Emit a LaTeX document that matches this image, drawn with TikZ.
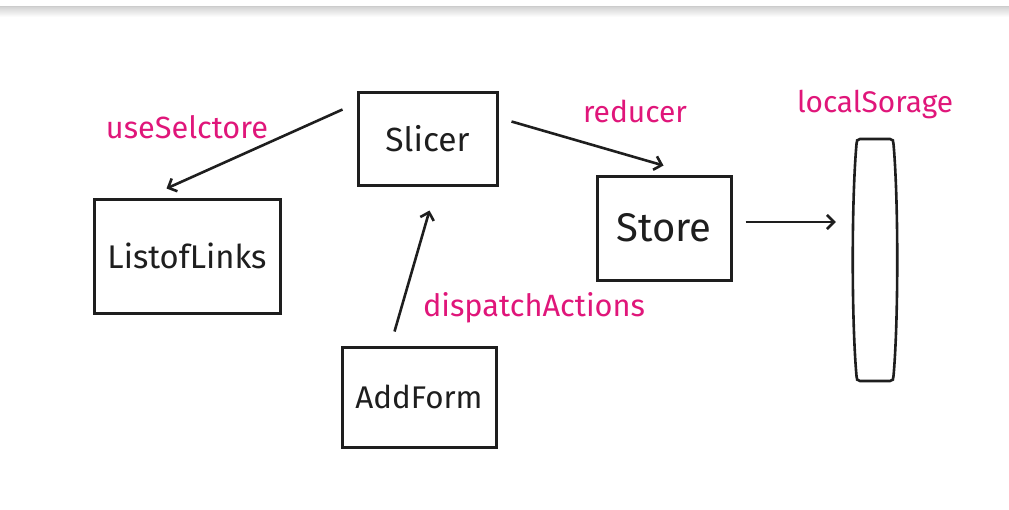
\documentclass[tikz,border=0pt]{standalone}
\usepackage{fontspec}
\setmainfont{Fira Sans}
\usetikzlibrary{arrows.meta,calc}
\definecolor{ink}{RGB}{30,30,30}
\definecolor{lblpink}{RGB}{224,22,122}
\newcommand\fitw[2]{\resizebox{#1pt}{!}{#2}}
\tikzset{
  box/.style={draw=ink,line width=3pt,rectangle,inner sep=0pt,text=ink},
  conn/.style={draw=ink,line width=2.6pt,-{Straight Barb[length=7pt,width=14pt]}},
  lbl/.style={text=lblpink,inner sep=0pt}
}
\begin{document}
\begin{tikzpicture}[x=1pt,y=-1pt]
\useasboundingbox (0,0) rectangle (1009,509);
\fill[white] (0,0) rectangle (1009,509);
\shade[top color=black!18,bottom color=white] (0,6) rectangle (1009,17);
\draw[black!20,line width=0.8pt] (0,6) -- (1009,6);

\node[box,minimum width=139pt,minimum height=93pt] (slicer) at (427.5,138.5) {\fitw{84}{Slicer}};
\node[box,minimum width=186pt,minimum height=114pt] (list) at (187,256) {\fitw{159}{ListofLinks}};
\node[box,minimum width=134pt,minimum height=104pt] (store) at (664,228) {\fitw{95}{Store}};
\node[box,minimum width=154pt,minimum height=100pt] (addform) at (419,397) {\fitw{127}{AddForm}};
\node[minimum width=44pt,minimum height=242pt,inner sep=0pt] (ls) at (875,260) {};
\begin{scope}[shift={(ls.center)}]
\draw[ink,line width=2.6pt]
  (-15,-121) -- (15,-121) .. controls (18,-121) and (18.5,-119) .. (18.5,-116)
  .. controls (23.5,-60) and (23.5,60) .. (18.5,116)
  .. controls (18.5,119) and (18,121) .. (15,121) -- (-15,121)
  .. controls (-18,121) and (-18.5,119) .. (-18.5,116)
  .. controls (-23.5,60) and (-23.5,-60) .. (-18.5,-116)
  .. controls (-18.5,-119) and (-18,-121) .. (-15,-121) -- cycle;
\end{scope}

\node[lbl] (l1) at (187,127) {\fitw{162}{useSelctore}};
\node[lbl] (l2) at (635,111) {\fitw{104}{reducer}};
\node[lbl] (l3) at (875,104) {\fitw{156}{localSorage}};
\node[lbl] (l4) at (534,308) {\fitw{222}{dispatchActions}};

\draw[conn] ($(slicer.north west)+(-14,19)$) -- ($(list.north west)+(74,-9)$);
\draw[conn] ($(slicer.north east)+(13,31)$) -- ($(store.north west)+(68,-9)$);
\draw[conn] ($(addform.north west)+(54,-14)$) -- ($(slicer.south west)+(73,24)$);
\draw[conn] ($(store.east)+(13,-6)$) -- ($(ls.west)+(-17,-38)$);
\end{tikzpicture}
\end{document}
